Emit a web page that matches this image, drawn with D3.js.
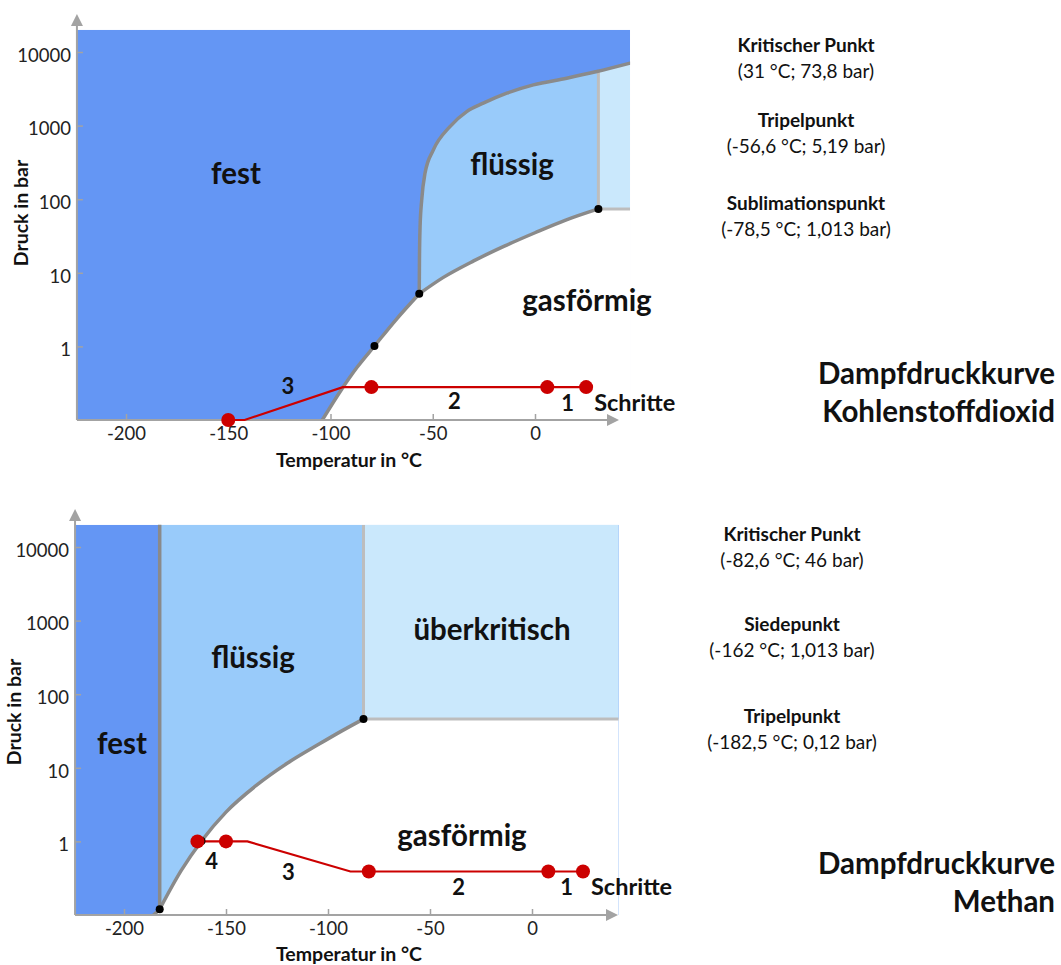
<!DOCTYPE html>
<html>
<head>
<meta charset="utf-8">
<script src="https://cdn.jsdelivr.net/npm/d3@7"></script>
<style>
  body { margin: 0; background: #fff; }
  svg { display: block; font-family: Lato, "Open Sans", sans-serif; }
</style>
</head>
<body>
<svg id="chart" width="1061" height="965"></svg>
<script>
// ---- shared axis ticks ----
const tempTicks = [-200, -150, -100, -50, 0];
const pressureTicks = [1, 10, 100, 1000, 10000];

// ---- Kohlenstoffdioxid (°C, bar) ----
const co2PointNames = ["Kritischer Punkt", "Tripelpunkt", "Sublimationspunkt"];
const co2PointT = [31, -56.6, -78.5];
const co2PointP = [73.8, 5.19, 1.013];
// phase boundaries
const co2SublimationT = [-104, -95, -87, -78.5, -68, -56.6];
const co2SublimationP = [0.1, 0.25, 0.52, 1.013, 2.3, 5.19];
const co2MeltingT = [-56.6, -56.5, -56.2, -55.4, -53.8, -49.7, -41.6, -33.4, -25.3, -13.8, -0.8, 15.5, 30.2, 46.5];
const co2MeltingP = [5.19, 15, 42, 98, 225, 468, 969, 1550, 2015, 2755, 3570, 4400, 5420, 7050];
const co2VaporT = [-56.6, -45, -30, -15, 0, 15, 31];
const co2VaporP = [5.19, 8.6, 14.5, 23, 35, 52, 73.8];
// cooling path ("Schritte")
const co2PathT = [25, -94, -142, -150];
const co2PathP = [0.28, 0.28, 0.1, 0.1];
const co2StepT = [25, 6, -80, -150];
const co2StepP = [0.28, 0.28, 0.28, 0.1];
const co2StepNames = ["1", "2", "3"];

// ---- Methan (°C, bar) ----
const ch4PointNames = ["Kritischer Punkt", "Siedepunkt", "Tripelpunkt"];
const ch4PointT = [-82.6, -162, -182.5];
const ch4PointP = [46, 1.013, 0.12];
const ch4SublimationT = [-185.5, -182.5];
const ch4SublimationP = [0.1, 0.12];
const ch4MeltingT = [-182.5, -182.5];
const ch4MeltingP = [0.12, 20000];
const ch4VaporT = [-182.5, -172, -162, -150, -135, -120, -105, -93, -82.6];
const ch4VaporP = [0.12, 0.4, 1.013, 2.5, 5.8, 11.5, 20.5, 32, 46];
const ch4PathT = [25, -89, -139.5, -164];
const ch4PathP = [0.39, 0.39, 1, 1];
const ch4StepT = [25, 8, -80, -150, -164];
const ch4StepP = [0.39, 0.39, 0.39, 1, 1];
const ch4StepNames = ["1", "2", "3", "4"];

const COLORS = {
  solid: "#6496f4",
  liquid: "#99cbfa",
  super: "#cae8fc",
  curve: "#8a8a8a",
  lightLine: "#bdbdbd",
  axis: "#a3a3a3",
  red: "#cc0000",
  text: "#111"
};

const zip = (a, b) => a.map((v, i) => [v, b[i]]);
const fmt = v => String(v).replace(".", ",");

const svg = d3.select("#chart");
const defs = svg.append("defs");

function drawDiagram(c) {
  const x = d3.scaleLinear().domain([-200, 0]).range(c.xRange);
  const y = d3.scaleLog().domain([0.1, 10000]).range(c.yRange);
  const X0 = x(c.tMin), X1 = x(c.tMax), Y0 = y(0.1), Y1 = y(c.pTop);

  const line = pts => d3.line().x(d => x(d[0])).y(d => y(d[1]))
    .curve(pts.length > 2 ? d3.curveMonotoneX : d3.curveLinear)(pts);
  const cont = pts => line(pts).replace(/^M/, "L");

  const sub = zip(c.subT, c.subP);
  const melt = zip(c.meltT, c.meltP);
  const vap = zip(c.vapT, c.vapP);
  const crit = [c.pointT[c.critIdx], c.pointP[c.critIdx]];
  const meltEnd = melt[melt.length - 1];

  defs.append("clipPath").attr("id", c.id + "-plot")
    .append("rect").attr("x", X0).attr("y", Y1)
    .attr("width", X1 - X0).attr("height", Y0 - Y1);

  // everything right of the sublimation / melting boundary
  const nonSolidPath = line(sub) + cont(melt) +
    `L${X1},${y(meltEnd[1])}L${X1},${Y0 + 10}L${x(sub[0][0])},${Y0 + 10}Z`;
  defs.append("clipPath").attr("id", c.id + "-fluid")
    .append("path").attr("d", nonSolidPath);

  const g = svg.append("g");
  const plot = g.append("g").attr("clip-path", `url(#${c.id}-plot)`);

  // solid phase fills the whole field first
  plot.append("rect").attr("x", X0).attr("y", Y1)
    .attr("width", X1 - X0).attr("height", Y0 - Y1).attr("fill", COLORS.solid);

  const fluid = plot.append("g").attr("clip-path", `url(#${c.id}-fluid)`);
  fluid.append("rect").attr("x", X0).attr("y", Y1)
    .attr("width", X1 - X0).attr("height", Y0 - Y1).attr("fill", COLORS.liquid);
  fluid.append("rect").attr("x", x(crit[0])).attr("y", Y1)
    .attr("width", X1 - x(crit[0])).attr("height", y(crit[1]) - Y1)
    .attr("fill", COLORS.super);

  // gas phase below sublimation + vapour pressure curve
  const gasPath = line(sub) + cont(vap) +
    `L${X1},${y(crit[1])}L${X1},${Y0 + 10}L${x(sub[0][0])},${Y0 + 10}Z`;
  plot.append("path").attr("d", gasPath).attr("fill", "#fff");

  // critical isotherm and isobar
  fluid.append("line")
    .attr("x1", x(crit[0])).attr("x2", x(crit[0]))
    .attr("y1", y(crit[1])).attr("y2", Y1)
    .attr("stroke", COLORS.lightLine).attr("stroke-width", 3);
  plot.append("line")
    .attr("x1", x(crit[0])).attr("x2", X1)
    .attr("y1", y(crit[1])).attr("y2", y(crit[1]))
    .attr("stroke", COLORS.lightLine).attr("stroke-width", 3);

  // phase boundary curves
  [sub, melt, vap].forEach(pts => {
    plot.append("path").attr("d", line(pts))
      .attr("fill", "none").attr("stroke", COLORS.curve)
      .attr("stroke-width", 3.5).attr("stroke-linecap", "round");
  });

  // axes
  const axisG = g.append("g");
  axisG.append("line").attr("x1", X0).attr("x2", c.xArrow - 8)
    .attr("y1", Y0).attr("y2", Y0)
    .attr("stroke", COLORS.axis).attr("stroke-width", 2);
  axisG.append("path")
    .attr("d", `M${c.xArrow},${Y0}L${c.xArrow - 12},${Y0 - 6}L${c.xArrow - 12},${Y0 + 6}Z`)
    .attr("fill", COLORS.axis);
  axisG.append("line").attr("x1", X0).attr("x2", X0)
    .attr("y1", Y0).attr("y2", c.yArrow + 8)
    .attr("stroke", COLORS.axis).attr("stroke-width", 2);
  axisG.append("path")
    .attr("d", `M${X0},${c.yArrow}L${X0 - 6},${c.yArrow + 12}L${X0 + 6},${c.yArrow + 12}Z`)
    .attr("fill", COLORS.axis);

  const xAxis = g.append("g").attr("transform", `translate(0,${Y0})`)
    .call(d3.axisBottom(x).tickValues(tempTicks).tickFormat(d => String(d))
      .tickSizeInner(-6).tickSizeOuter(0).tickPadding(7));
  const yAxis = g.append("g").attr("transform", `translate(${X0},0)`)
    .call(d3.axisLeft(y).tickValues(pressureTicks).tickFormat(d => String(d))
      .tickSizeInner(-6).tickSizeOuter(0).tickPadding(6));
  [xAxis, yAxis].forEach(a => {
    a.select(".domain").remove();
    a.attr("font-family", null).attr("font-size", null);
    a.selectAll(".tick line").attr("stroke", COLORS.axis).attr("stroke-width", 1.5);
    a.selectAll(".tick text").attr("fill", "#222").style("font-size", "18.5px");
  });
  yAxis.selectAll(".tick text").attr("dy", "0.5em");

  g.append("text").attr("x", c.xTitle[0]).attr("y", c.xTitle[1])
    .attr("text-anchor", "middle").attr("dominant-baseline", "central")
    .attr("font-weight", 700).attr("font-size", 19.5).attr("fill", COLORS.text)
    .text("Temperatur in °C");
  g.append("text")
    .attr("transform", `translate(${c.yTitle[0]},${c.yTitle[1]}) rotate(-90)`)
    .attr("text-anchor", "middle").attr("dominant-baseline", "central")
    .attr("font-weight", 700).attr("font-size", 19.5).attr("fill", COLORS.text)
    .text("Druck in bar");

  // phase names
  c.regions.forEach(r => {
    g.append("text").attr("x", r.x).attr("y", r.y)
      .attr("text-anchor", "middle").attr("dominant-baseline", "central")
      .attr("font-weight", 700).attr("font-size", 29.5).attr("fill", COLORS.text)
      .text(r.name);
  });

  // cooling path
  const pathLine = d3.line().x(d => x(d[0])).y(d => y(d[1]));
  g.append("path").attr("d", pathLine(zip(c.pathT, c.pathP)))
    .attr("fill", "none").attr("stroke", COLORS.red).attr("stroke-width", 2.2);

  // marked points
  g.selectAll(null).data(zip(c.pointT, c.pointP)).join("circle")
    .attr("cx", d => x(d[0])).attr("cy", d => y(d[1])).attr("r", 4)
    .attr("fill", "#000");

  const steps = zip(c.stepT, c.stepP);
  g.selectAll(null).data(steps).join("circle")
    .attr("cx", d => x(d[0])).attr("cy", d => y(d[1])).attr("r", 7)
    .attr("fill", COLORS.red);

  c.stepNames.forEach((name, i) => {
    const a = steps[i], b = steps[i + 1];
    const off = c.stepOffsets[i];
    g.append("text")
      .attr("x", (x(a[0]) + x(b[0])) / 2 + off[0])
      .attr("y", (y(a[1]) + y(b[1])) / 2 + off[1])
      .attr("text-anchor", "middle").attr("dominant-baseline", "central")
      .attr("font-weight", 700).attr("font-size", 22).attr("fill", COLORS.text)
      .text(name);
  });
  g.append("text")
    .attr("x", x(steps[0][0]) + 8)
    .attr("y", y(steps[0][1]) + c.stepOffsets[0][1])
    .attr("dominant-baseline", "central")
    .attr("font-weight", 700).attr("font-size", 23.5).attr("fill", COLORS.text)
    .text("Schritte");

  // point descriptions
  c.pointNames.forEach((name, i) => {
    const yy = c.infoY[i];
    g.append("text").attr("x", c.infoX).attr("y", yy)
      .attr("text-anchor", "middle").attr("dominant-baseline", "central")
      .attr("font-weight", 700).attr("font-size", 19).attr("fill", COLORS.text)
      .text(name);
    g.append("text").attr("x", c.infoX).attr("y", yy + 26)
      .attr("text-anchor", "middle").attr("dominant-baseline", "central")
      .attr("font-size", 19).attr("fill", COLORS.text)
      .text(`(${fmt(c.pointT[i])} °C; ${fmt(c.pointP[i])} bar)`);
  });

  c.title.forEach((t, i) => {
    g.append("text").attr("x", 1055).attr("y", c.titleY + i * 38)
      .attr("text-anchor", "end").attr("dominant-baseline", "central")
      .attr("font-weight", 700).attr("font-size", 29.5).attr("fill", COLORS.text)
      .text(t);
  });
}

drawDiagram({
  id: "co2",
  xRange: [126, 535], yRange: [420, 52],
  tMin: -224, tMax: 46.5, pTop: 20000,
  xArrow: 619, yArrow: 14,
  subT: co2SublimationT, subP: co2SublimationP,
  meltT: co2MeltingT, meltP: co2MeltingP,
  vapT: co2VaporT, vapP: co2VaporP,
  pointNames: co2PointNames, pointT: co2PointT, pointP: co2PointP, critIdx: 0,
  pathT: co2PathT, pathP: co2PathP,
  stepT: co2StepT, stepP: co2StepP, stepNames: co2StepNames,
  stepOffsets: [[1, 15], [-5, 13], [-12, -18]],
  regions: [
    { name: "fest", x: 236, y: 172 },
    { name: "flüssig", x: 512, y: 163 },
    { name: "gasförmig", x: 587, y: 299 }
  ],
  xTitle: [349, 459], yTitle: [20, 213],
  infoX: 806, infoY: [44, 119, 202],
  title: ["Dampfdruckkurve", "Kohlenstoffdioxid"], titleY: 372
});

drawDiagram({
  id: "ch4",
  xRange: [124, 532], yRange: [915, 547],
  tMin: -224, tMax: 42.5, pTop: 20000,
  xArrow: 618, yArrow: 509,
  subT: ch4SublimationT, subP: ch4SublimationP,
  meltT: ch4MeltingT, meltP: ch4MeltingP,
  vapT: ch4VaporT, vapP: ch4VaporP,
  pointNames: ch4PointNames, pointT: ch4PointT, pointP: ch4PointP, critIdx: 0,
  pathT: ch4PathT, pathP: ch4PathP,
  stepT: ch4StepT, stepP: ch4StepP, stepNames: ch4StepNames,
  stepOffsets: [[1, 15], [0, 15], [-9, 15], [0, 19]],
  regions: [
    { name: "fest", x: 122, y: 742 },
    { name: "flüssig", x: 253, y: 656 },
    { name: "überkritisch", x: 492, y: 628 },
    { name: "gasförmig", x: 462, y: 834 }
  ],
  xTitle: [349, 953], yTitle: [13, 712],
  infoX: 792, infoY: [533, 623, 715],
  title: ["Dampfdruckkurve", "Methan"], titleY: 862
});
</script>
</body>
</html>
